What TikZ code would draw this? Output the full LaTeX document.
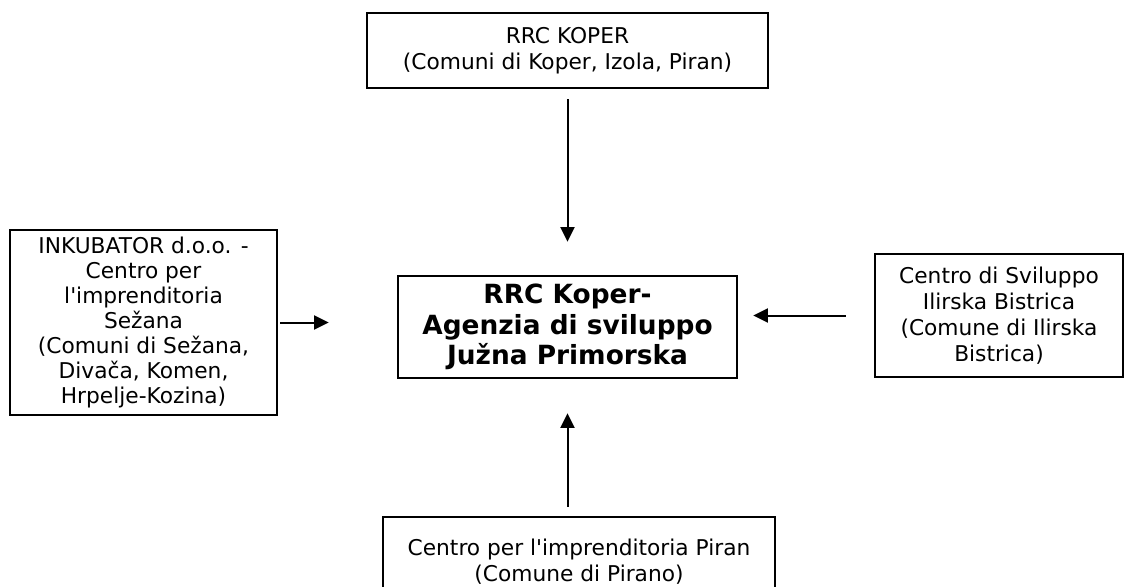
\documentclass[tikz,border=0pt]{standalone}
\usepackage{fontspec}
\newfontfamily\boxfont{DejaVu Sans}
\usetikzlibrary{arrows.meta}
\begin{document}
\begin{tikzpicture}[x=0.75pt,y=-0.75pt,
    box/.style={draw, line width=1.8pt, align=center, inner sep=0pt,
        font=\boxfont\fontsize{16.3}{19.5}\selectfont},
    link/.style={line width=1.5pt, -{Triangle[length=11pt,width=10.5pt]}}]
    \useasboundingbox (0,0) rectangle (1126,586);
    \clip (0,0) rectangle (1126,586);
    \fill[white] (0,0) rectangle (1126,586);

    % the agency in the middle and its four partners
    \node[box, minimum width=254.25pt, minimum height=76.5pt,
        font=\boxfont\bfseries\fontsize{19.8}{23}\selectfont] (rrc) at (567.5, 327)
        {RRC Koper-\\Agenzia di sviluppo\\Južna Primorska};
    \node[box, minimum width=300.75pt, minimum height=56.25pt] (koper) at (567.5, 50.5)
        {RRC KOPER\\(Comuni di Koper, Izola, Piran)};
    \node[box, minimum width=200.25pt, minimum height=138.75pt,
        font=\boxfont\fontsize{16.3}{18.7}\selectfont] (inkubator) at (143.5, 322.5)
        {INKUBATOR d.o.o. -\\Centro per\\l'imprenditoria\\Sežana\\(Comuni di Sežana,\\Divača, Komen,\\Hrpelje-Kozina)};
    \node[box, minimum width=186pt, minimum height=92.25pt] (bistrica) at (999, 315.5)
        {Centro di Sviluppo\\Ilirska Bistrica\\(Comune di Ilirska\\Bistrica)};
    \node[box, minimum width=294pt, minimum height=67.5pt] (piran) at (579, 562)
        {Centro per l'imprenditoria Piran\\(Comune di Pirano)};

    \draw[link, shorten <=7.5pt, shorten >=24.75pt] (koper.south) -- (rrc.north);
    \draw[link, shorten <=1.5pt, shorten >=51pt] (inkubator.east) -- (inkubator.east -| rrc.west);
    \draw[link, shorten <=21pt, shorten >=11.25pt] (bistrica.west) -- (bistrica.west -| rrc.east);
    \draw[link, shorten <=6.75pt, shorten >=25.5pt] (piran.north -| rrc.south) -- (rrc.south);

\end{tikzpicture}
\end{document}
